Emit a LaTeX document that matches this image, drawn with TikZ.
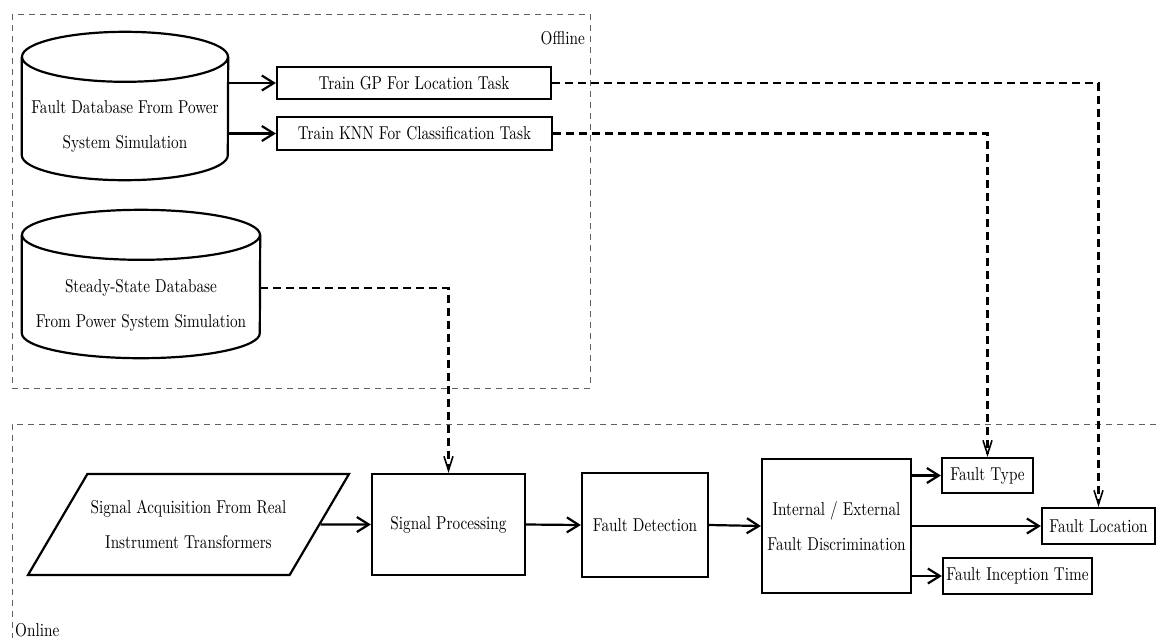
\documentclass[tikz,border=0pt]{standalone}
\usepackage{fontspec}
\setmainfont{lmroman10-regular.otf}[FakeStretch=0.82]
\usetikzlibrary{arrows.meta,shapes.geometric}

\begin{document}
\begin{tikzpicture}[x=1pt,y=-1pt, >={Straight Barb[length=12pt,width=15pt]},
  every node/.style={font=\fontsize{18.6}{35}\selectfont},
  block/.style={draw,line width=2.2pt,inner sep=2pt,align=center},
  dbbox/.style={inner sep=0pt,minimum height=148pt},
  dbline/.style={line width=2.2pt},
  frame/.style={gray!75!black,line width=1pt,dash pattern=on 6pt off 5pt},
  flow/.style={line width=2.2pt,->},
  feed/.style={line width=2.6pt,dash pattern=on 8pt off 5pt,-{Straight Barb[length=14pt,width=9pt,line width=1.6pt]}}]
\useasboundingbox (0,0) rectangle (1156,638);

% offline part
\draw[frame] (12,14) rectangle (590,388);
\node[anchor=east,inner sep=0pt] (offlbl) at (585,38) {Offline};
\node[dbbox,minimum width=206pt] (fdb) at (125,106) {};
\draw[dbline] ([yshift=-25pt]fdb.north west) -- ([yshift=25pt]fdb.south west)
  arc[start angle=180,end angle=360,x radius=103pt,y radius=25pt] -- ([yshift=-25pt]fdb.north east);
\draw[dbline] ([yshift=-25pt]fdb.north) ellipse[x radius=103pt,y radius=25pt];
\node[align=center] (fdbtxt) at (125,126.5) {Fault Database From Power\\System Simulation};
\node[dbbox,minimum width=238pt] (sdb) at (141,284) {};
\draw[dbline] ([yshift=-25pt]sdb.north west) -- ([yshift=25pt]sdb.south west)
  arc[start angle=180,end angle=360,x radius=119pt,y radius=25pt] -- ([yshift=-25pt]sdb.north east);
\draw[dbline] ([yshift=-25pt]sdb.north) ellipse[x radius=119pt,y radius=25pt];
\node[align=center] (sdbtxt) at (141,305.5) {Steady-State Database\\From Power System Simulation};
\node[block,minimum width=274pt,minimum height=32pt] (gp) at (414,83) {Train GP For Location Task};
\node[block,minimum width=275pt,minimum height=33pt] (knn) at (414.5,133.5) {Train KNN For Classification Task};
\draw[flow] (fdb.east |- gp.west) -- (gp.west);
\draw[flow] (fdb.east |- knn.west) -- (knn.west);

% online part
\draw[frame] (1156,424) -- (12,424) -- (12,638);
\node[anchor=south west,inner sep=1pt] (onlbl) at (14,638) {Online};
\node[block,trapezium,trapezium left angle=41.5,trapezium right angle=138.5,trapezium stretches body=true,
  minimum width=321pt,minimum height=101pt] (acq) at (188.5,524.5) {Signal Acquisition From Real\\Instrument Transformers};
\node[block,minimum width=153pt,minimum height=101pt] (sp) at (448.5,524.5) {Signal Processing};
\node[block,minimum width=126pt,minimum height=104pt] (fd) at (645,525) {Fault Detection};
\node[block,minimum width=149pt,minimum height=134pt] (ied) at (836.5,526) {Internal / External\\Fault Discrimination};
\node[block,minimum width=91pt,minimum height=35pt] (ftype) at (987.5,475.5) {Fault Type};
\node[block,minimum width=113pt,minimum height=36pt] (floc) at (1098.5,526) {Fault Location};
\node[block,minimum width=149pt,minimum height=36pt] (fit) at (1017.5,576) {Fault Inception Time};
\draw[flow] (acq.east) -- (sp.west);
\draw[flow] (sp.east) -- (fd.west);
\draw[flow] (fd.east) -- (ied.west);
\draw[flow] (ied.east |- ftype.west) -- (ftype.west);
\draw[flow] (ied.east) -- (floc.west);
\draw[flow] (ied.east |- fit.west) -- (fit.west);

% offline results feed the online chain
\draw[feed] (gp.east) -| (floc.north);
\draw[feed] (knn.east) -| (ftype.north);
\draw[feed] ([yshift=-4pt]sdb.east) -| (sp.north);
\end{tikzpicture}
\end{document}
